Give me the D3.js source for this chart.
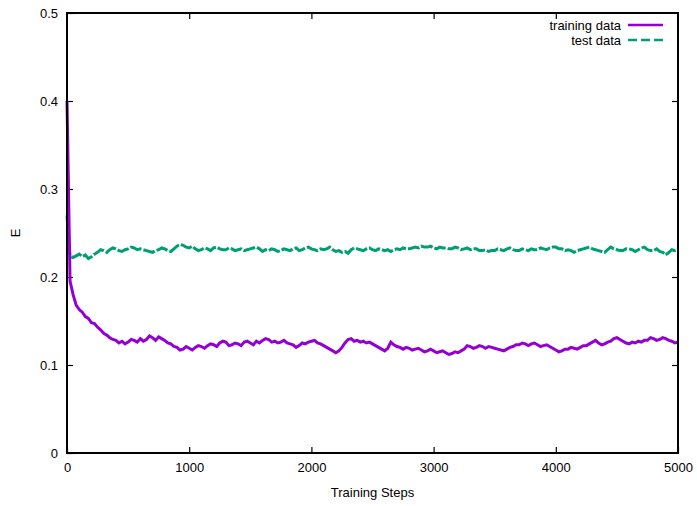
<!DOCTYPE html>
<html>
<head>
<meta charset="utf-8">
<script src="https://cdn.jsdelivr.net/npm/d3@7"></script>
<style>
  body { margin: 0; background: #fff; }
  text { font-family: "Liberation Sans", Arial, sans-serif; }
</style>
</head>
<body>
<div id="chart"></div>
<script>
const steps = d3.range(0, 5001, 25);

const trainingE = [
  0.400, 0.195, 0.180, 0.168, 0.163, 0.160, 0.155, 0.153, 0.148, 0.147,
  0.143, 0.140, 0.136, 0.134, 0.131, 0.129, 0.128, 0.125, 0.127, 0.124,
  0.126, 0.129, 0.128, 0.126, 0.130, 0.127, 0.129, 0.133, 0.131, 0.128,
  0.132, 0.130, 0.128, 0.125, 0.124, 0.121, 0.120, 0.117, 0.118, 0.121,
  0.119, 0.117, 0.120, 0.122, 0.121, 0.119, 0.122, 0.124, 0.123, 0.121,
  0.125, 0.127, 0.126, 0.122, 0.123, 0.125, 0.124, 0.122, 0.126, 0.127,
  0.125, 0.123, 0.127, 0.125, 0.128, 0.130, 0.129, 0.126, 0.127, 0.125,
  0.126, 0.128, 0.125, 0.124, 0.123, 0.120, 0.122, 0.125, 0.124, 0.126,
  0.127, 0.128, 0.125, 0.124, 0.122, 0.120, 0.118, 0.116, 0.114, 0.116,
  0.120, 0.125, 0.129, 0.130, 0.127, 0.128, 0.126, 0.127, 0.125, 0.126,
  0.124, 0.122, 0.120, 0.118, 0.116, 0.119, 0.126, 0.123, 0.121, 0.120,
  0.118, 0.120, 0.119, 0.117, 0.118, 0.119, 0.117, 0.115, 0.116, 0.118,
  0.116, 0.114, 0.115, 0.116, 0.114, 0.112, 0.113, 0.115, 0.114, 0.116,
  0.118, 0.122, 0.121, 0.119, 0.120, 0.122, 0.121, 0.119, 0.121, 0.120,
  0.119, 0.118, 0.117, 0.116, 0.118, 0.120, 0.121, 0.123, 0.123, 0.125,
  0.124, 0.122, 0.124, 0.125, 0.123, 0.121, 0.122, 0.123, 0.121, 0.119,
  0.117, 0.115, 0.116, 0.118, 0.118, 0.120, 0.119, 0.118, 0.120, 0.122,
  0.122, 0.124, 0.126, 0.128, 0.125, 0.123, 0.124, 0.126, 0.127, 0.130,
  0.131, 0.129, 0.127, 0.125, 0.124, 0.126, 0.125, 0.127, 0.126, 0.128,
  0.128, 0.131, 0.130, 0.128, 0.129, 0.131, 0.130, 0.128, 0.127, 0.125,
  0.126
];

const testE = [
  0.270, 0.224, 0.222, 0.224, 0.226, 0.223, 0.225, 0.221, 0.223, 0.226,
  0.228, 0.231, 0.230, 0.228, 0.231, 0.233, 0.232, 0.230, 0.229, 0.231,
  0.232, 0.234, 0.233, 0.231, 0.232, 0.231, 0.230, 0.229, 0.228, 0.230,
  0.231, 0.233, 0.232, 0.230, 0.229, 0.232, 0.235, 0.237, 0.236, 0.234,
  0.233, 0.235, 0.232, 0.230, 0.231, 0.233, 0.232, 0.230, 0.233, 0.234,
  0.232, 0.231, 0.231, 0.233, 0.232, 0.230, 0.231, 0.232, 0.230, 0.231,
  0.232, 0.233, 0.234, 0.232, 0.229, 0.231, 0.230, 0.232, 0.231, 0.229,
  0.230, 0.232, 0.231, 0.230, 0.232, 0.233, 0.230, 0.231, 0.233, 0.234,
  0.232, 0.231, 0.230, 0.232, 0.231, 0.232, 0.234, 0.231, 0.229, 0.230,
  0.228, 0.229, 0.227, 0.231, 0.233, 0.232, 0.231, 0.230, 0.232, 0.233,
  0.231, 0.230, 0.232, 0.231, 0.230, 0.231, 0.229, 0.231, 0.232, 0.231,
  0.233, 0.232, 0.232, 0.233, 0.234, 0.233, 0.235, 0.234, 0.234, 0.235,
  0.233, 0.232, 0.234, 0.233, 0.233, 0.232, 0.232, 0.234, 0.233, 0.231,
  0.232, 0.233, 0.231, 0.232, 0.232, 0.230, 0.230, 0.231, 0.229, 0.230,
  0.230, 0.232, 0.231, 0.230, 0.232, 0.233, 0.231, 0.230, 0.230, 0.232,
  0.231, 0.230, 0.232, 0.231, 0.231, 0.233, 0.232, 0.231, 0.233, 0.234,
  0.234, 0.232, 0.232, 0.230, 0.231, 0.230, 0.228, 0.230, 0.231, 0.232,
  0.233, 0.234, 0.232, 0.231, 0.230, 0.229, 0.228, 0.231, 0.234, 0.232,
  0.231, 0.230, 0.230, 0.232, 0.232, 0.231, 0.229, 0.231, 0.233, 0.234,
  0.231, 0.230, 0.230, 0.232, 0.229, 0.228, 0.225, 0.228, 0.231, 0.230,
  0.232
];

const xTicks = [0, 1000, 2000, 3000, 4000, 5000];
const yTicks = [0, 0.1, 0.2, 0.3, 0.4, 0.5];
const seriesNames = ["training data", "test data"];

const W = 697, H = 506;
const margin = {top: 13, right: 19, bottom: 53, left: 67},
      width = W - margin.left - margin.right,
      height = H - margin.top - margin.bottom;

const svg = d3.select("#chart")
    .append("svg")
    .attr("width", W)
    .attr("height", H)
    .append("g")
    .attr("transform", `translate(${margin.left},${margin.top})`);

const x = d3.scaleLinear().domain([0, 5000]).range([0, width]);
const y = d3.scaleLinear().domain([0, 0.5]).range([height, 0]);

// axes with inward ticks, mirrored on top and right
function styleAxis(g) {
  g.select(".domain").remove();
  g.selectAll(".tick line").attr("stroke", "#000").attr("stroke-width", 1.2);
  g.selectAll(".tick text").attr("font-size", 13).attr("fill", "#000");
}

svg.append("g")
    .attr("transform", `translate(0,${height})`)
    .call(d3.axisBottom(x).tickValues(xTicks).tickFormat(d3.format("d"))
      .tickSizeInner(-6).tickSizeOuter(0).tickPadding(10))
    .call(styleAxis);

svg.append("g")
    .call(d3.axisTop(x).tickValues(xTicks.slice(1, -1)).tickFormat("")
      .tickSizeInner(-6).tickSizeOuter(0))
    .call(styleAxis);

svg.append("g")
    .call(d3.axisLeft(y).tickValues(yTicks).tickFormat(d => d === 0 ? "0" : d3.format(".1f")(d))
      .tickSizeInner(-6).tickSizeOuter(0).tickPadding(9))
    .call(styleAxis);

svg.append("g")
    .attr("transform", `translate(${width},0)`)
    .call(d3.axisRight(y).tickValues(yTicks.slice(1, -1)).tickFormat("")
      .tickSizeInner(-6).tickSizeOuter(0))
    .call(styleAxis);

// series
const line = d3.line()
    .x((d, i) => x(steps[i]))
    .y(d => y(d));

svg.append("path")
    .datum(testE)
    .attr("fill", "none")
    .attr("stroke", "#009e73")
    .attr("stroke-width", 3)
    .attr("stroke-dasharray", "12,2")
    .attr("d", line);

svg.append("path")
    .datum(trainingE)
    .attr("fill", "none")
    .attr("stroke", "#9400d3")
    .attr("stroke-width", 3)
    .attr("d", line);

// frame
svg.append("rect")
    .attr("width", width)
    .attr("height", height)
    .attr("fill", "none")
    .attr("stroke", "#000")
    .attr("stroke-width", 2);

// axis labels
svg.append("text")
    .attr("x", width / 2)
    .attr("y", height + 44)
    .attr("text-anchor", "middle")
    .attr("font-size", 13)
    .text("Training Steps");

svg.append("text")
    .attr("transform", `translate(${-47},${height / 2}) rotate(-90)`)
    .attr("text-anchor", "middle")
    .attr("font-size", 13)
    .text("E");

// legend
const legend = svg.append("g").attr("transform", `translate(${width - 57},0)`);
const legendColors = ["#9400d3", "#009e73"];
seriesNames.forEach((name, i) => {
  const ly = 12 + i * 15;
  legend.append("text")
      .attr("x", 0)
      .attr("y", ly)
      .attr("dy", "0.35em")
      .attr("text-anchor", "end")
      .attr("font-size", 13)
      .text(name);
  legend.append("line")
      .attr("x1", 7).attr("x2", 42)
      .attr("y1", ly).attr("y2", ly)
      .attr("stroke", legendColors[i])
      .attr("stroke-width", 2.5)
      .attr("stroke-dasharray", i === 1 ? "9,4" : null);
});
</script>
</body>
</html>
